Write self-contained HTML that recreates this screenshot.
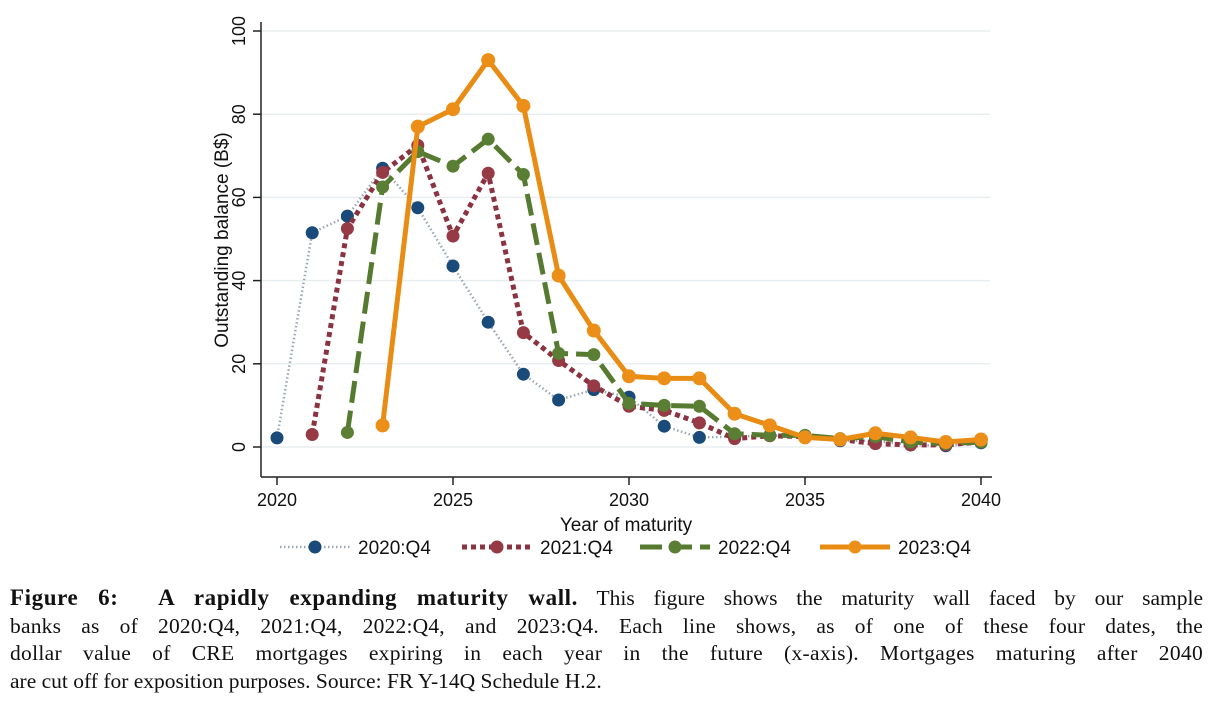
<!DOCTYPE html>
<html><head><meta charset="utf-8"><style>
body{margin:0;background:#fff;width:1212px;height:702px;overflow:hidden;font-family:"Liberation Sans",sans-serif}
#cap{position:absolute;left:10px;top:584px;width:1193px;font-family:"Liberation Serif",serif;font-size:21.5px;line-height:27.6px;color:#111}
#cap div{text-align:justify;text-align-last:justify;white-space:nowrap}
#cap div.last{text-align-last:left}
#cap b{font-size:23px;letter-spacing:0.6px}
</style></head><body>
<svg id="chart" width="1212" height="580" style="position:absolute;left:0;top:0"></svg>
<div id="cap">
<div style="white-space:normal"><b>Figure 6: &nbsp;A rapidly expanding maturity wall.</b> This figure shows the maturity wall faced by our sample</div>
<div style="white-space:normal;letter-spacing:0.2px">banks as of 2020:Q4, 2021:Q4, 2022:Q4, and 2023:Q4. Each line shows, as of one of these four dates, the</div>
<div style="white-space:normal;letter-spacing:0.3px">dollar value of CRE mortgages expiring in each year in the future (x-axis). Mortgages maturing after 2040</div>
<div class="last">are cut off for exposition purposes. Source: FR Y-14Q Schedule H.2.</div>
</div>
<script>
const xTicks=[2020,2025,2030,2035,2040];
const yTicks=[0,20,40,60,80,100];
const s2020=[2.2,51.5,55.5,67,57.5,43.5,30,17.5,11.3,13.8,12,5,2.3,2.5,2.8,2.5,1.5,1.5,0.5,0.3,1];
const s2021=[3,52.5,66,72.5,50.7,65.8,27.5,20.8,14.7,9.8,8.8,5.8,2,2.7,2.5,1.8,0.8,0.5,0.5,1.2];
const s2022=[3.5,62.5,71,67.5,74,65.5,22.5,22.2,10.5,10,9.8,3.2,2.8,2.8,2,2.5,1.2,0.8,1.2];
const s2023=[5.2,77,81.2,93,82,41.2,28,17,16.5,16.5,8,5.2,2.3,1.8,3.3,2.3,1.2,1.8];
const starts=[2020,2021,2022,2023];
const labels=["2020:Q4","2021:Q4","2022:Q4","2023:Q4"];
const NS="http://www.w3.org/2000/svg";
const svg=document.getElementById('chart');
const X=v=>277+(v-2020)*(981-277)/20;
const Y=v=>447-v*4.16;
function mk(t,a,p){const e=document.createElementNS(NS,t);for(const k in a)e.setAttribute(k,a[k]);(p||svg).appendChild(e);return e;}
yTicks.forEach(t=>{
 const g=mk('line',{x1:261,x2:990,y1:Y(t),y2:Y(t),stroke:'#e8eef0','stroke-width':1.5});
 
 
 mk('line',{x1:253,x2:261,y1:Y(t),y2:Y(t),stroke:'#222','stroke-width':1.5});
 const tx=mk('text',{x:0,y:0,transform:`translate(245,${Y(t)}) rotate(-90)`,'text-anchor':'middle','font-size':18,fill:'#111'});
 tx.textContent=t;
 
 
});
mk('line',{x1:261,x2:261,y1:22,y2:477,stroke:'#222','stroke-width':1.5});
mk('line',{x1:261,x2:992,y1:477,y2:477,stroke:'#222','stroke-width':1.5});
xTicks.forEach(t=>{
 mk('line',{x1:X(t),x2:X(t),y1:477,y2:485,stroke:'#222','stroke-width':1.5});
 const tx=mk('text',{x:X(t),y:506,'text-anchor':'middle','font-size':18,fill:'#111'});
 tx.textContent=t;
 
 
});
const xt=mk('text',{x:626,y:531,'text-anchor':'middle','font-size':19,fill:'#111'});xt.textContent='Year of maturity';


const yt=mk('text',{x:0,y:0,transform:'translate(228,240) rotate(-90)','text-anchor':'middle','font-size':19,fill:'#111'});yt.textContent='Outstanding balance (B$)';


const series=[s2020,s2021,s2022,s2023];
const styles=[
 {line:'#9aa7b4',mark:'#1a4a7a',w:2.5,dash:'1.5 2.5'},
 {line:'#8b3340',mark:'#963a45',w:5,dash:'5 4'},
 {line:'#557a30',mark:'#5a7f34',w:5,dash:'22 8'},
 {line:'#e88c14',mark:'#ec8f18',w:5,dash:''}];
series.forEach((s,i)=>{
 const st=styles[i];
 const pts=s.map((v,j)=>X(starts[i]+j)+','+Y(v)).join(' ');
 const pl=mk('polyline',{points:pts,fill:'none',stroke:st.line,'stroke-width':st.w,'stroke-dasharray':st.dash,'stroke-linejoin':'round'});
 
 
 s.forEach((v,j)=>{
  const c=mk('circle',{cx:X(starts[i]+j),cy:Y(v),r:i==3?7:6.5,fill:st.mark});
  
  
 });
 const lx=[280,462,640,820][i];
 const ll=mk('line',{x1:lx,x2:lx+70,y1:547,y2:547,stroke:st.line,'stroke-width':st.w,'stroke-dasharray':st.dash});
 
 
 mk('circle',{cx:lx+35,cy:547,r:6.5,fill:st.mark});
 const lt=mk('text',{x:lx+78,y:554,'font-size':19,fill:'#111'});lt.textContent=labels[i];
 
 
});
</script>
</body></html>
